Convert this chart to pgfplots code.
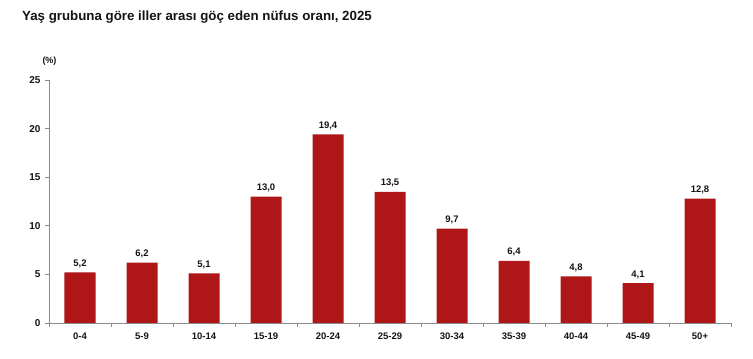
\documentclass[border=0pt]{standalone}
\usepackage{pgfplots}
\pgfplotsset{compat=1.18}
\usepackage{fontspec}
\setmainfont{Liberation Sans}
\definecolor{barred}{RGB}{174,22,24}
\definecolor{axgray}{RGB}{140,140,140}
\definecolor{txt}{RGB}{20,20,20}
\begin{document}
\begin{tikzpicture}[x=1pt,y=1pt]
\useasboundingbox (0,0) rectangle (753,359);
\node[anchor=base west, inner sep=0, font=\fontsize{13.3}{15}\selectfont\bfseries, text=txt] at (22,338) {Yaş grubuna göre iller arası göç eden nüfus oranı, 2025};
\node[anchor=base, inner sep=0, font=\fontsize{9}{10}\selectfont\bfseries, text=txt] at (49.5,295) {(\%)};
\begin{axis}[
  at={(49pt,36pt)}, anchor=south west,
  scale only axis, width=682pt, height=243pt,
  xmin=-0.5, xmax=10.5, ymin=0, ymax=25,
  axis x line*=bottom, axis y line*=left,
  axis line style={axgray, line width=0.8pt},
  ytick={0,5,10,15,20,25},
  xtick={0,...,10},
  xticklabels={0-4,5-9,10-14,15-19,20-24,25-29,30-34,35-39,40-44,45-49,50+},
  minor xtick={-0.5,0.5,...,10.5},
  major x tick style={draw=none},
  minor x tick style={axgray, line width=0.8pt},
  y tick style={axgray, line width=0.8pt},
  tick align=outside,
  major tick length=4pt, minor tick length=4pt,
  /pgf/number format/assume math mode=true,
  tick label style={font=\fontsize{9.5}{11}\selectfont\bfseries, text=txt},
  yticklabel style={xshift=-1pt, font=\fontsize{10}{11}\selectfont\bfseries},
  xticklabel style={yshift=-2pt},
  ybar, bar width=31pt,
  nodes near coords={\pgfmathprintnumber[fixed,fixed zerofill,precision=1,use comma,assume math mode=true]{\pgfplotspointmeta}},
  every node near coord/.append style={font=\fontsize{9.5}{11}\selectfont\bfseries, text=txt, yshift=1pt},
  clip=false,
]
\addplot[fill=barred, draw=none] coordinates {
(0,5.2) (1,6.2) (2,5.1) (3,13.0) (4,19.4) (5,13.5) (6,9.7) (7,6.4) (8,4.8) (9,4.1) (10,12.8)
};
\end{axis}
\end{tikzpicture}
\end{document}
